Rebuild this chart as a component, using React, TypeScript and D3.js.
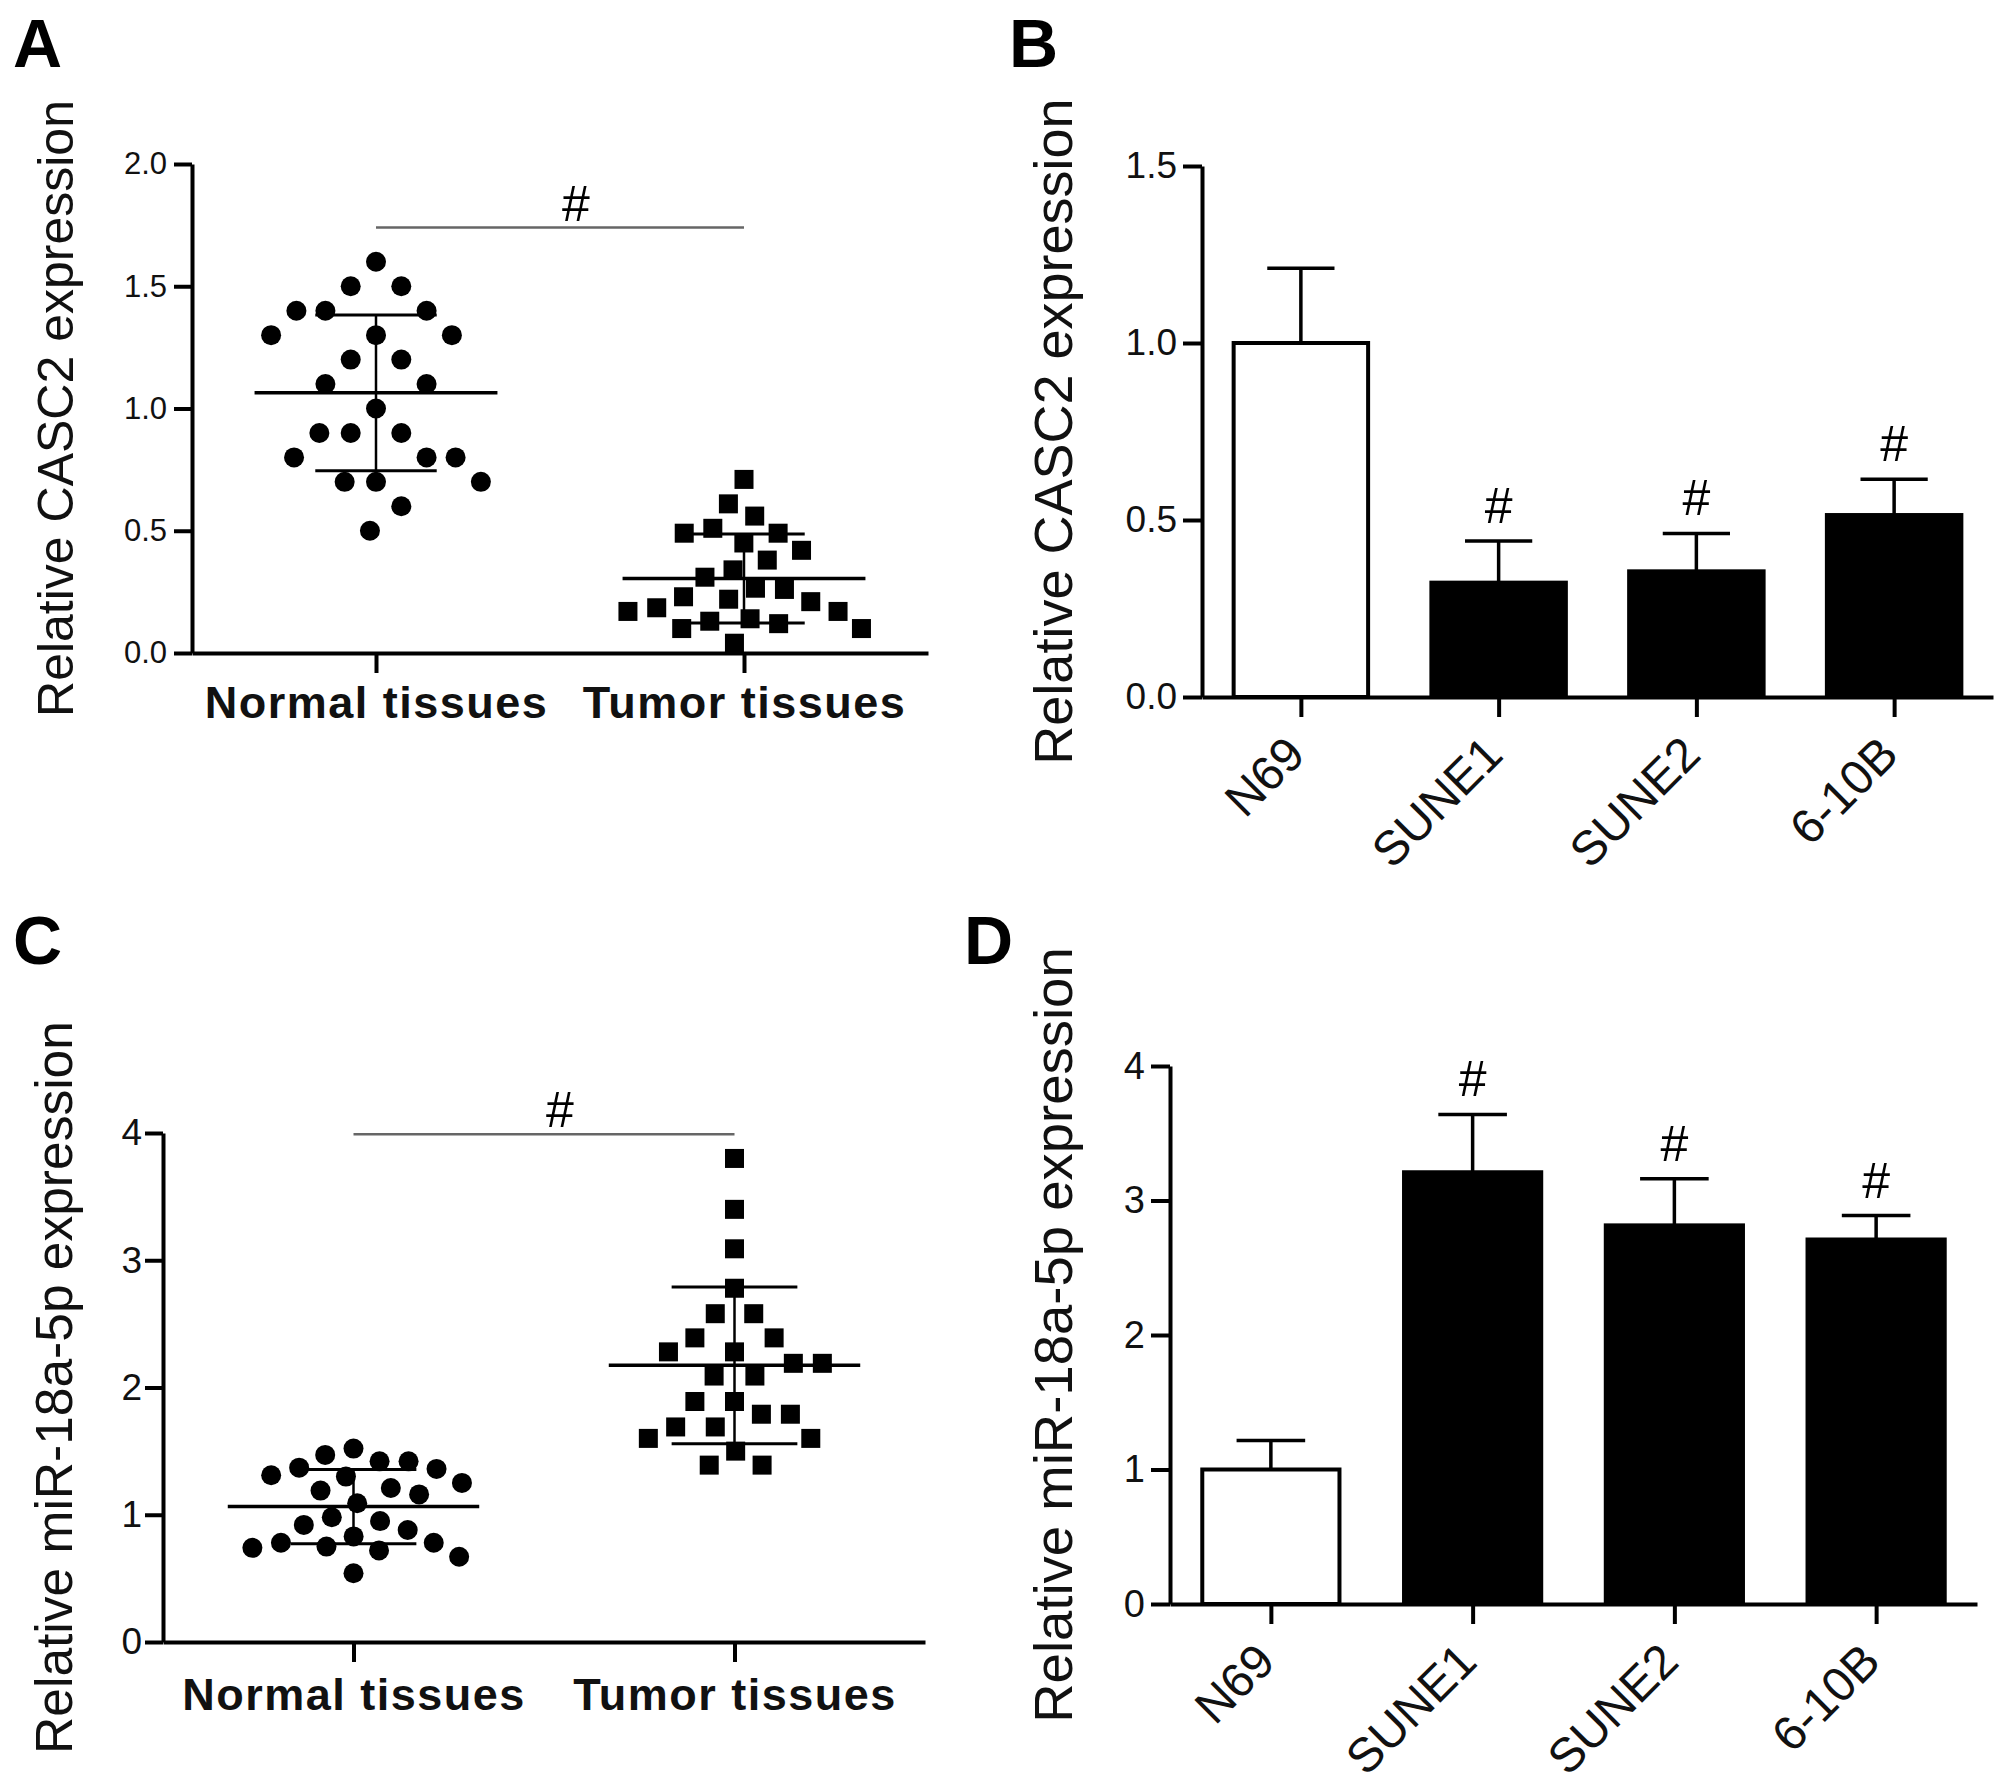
import React, { useRef, useEffect } from 'react';
import * as d3 from 'd3';

// ---- data ----
// panel A: CASC2 in tissues (one value per patient)
const tissueGroups = ['Normal tissues', 'Tumor tissues'];
const casc2Normal = [1.6, 1.5, 1.5, 1.4, 1.4, 1.4, 1.3, 1.3, 1.3, 1.2, 1.2, 1.1, 1.1, 1.0, 0.9, 0.9, 0.9, 0.8, 0.8, 0.8, 0.7, 0.7, 0.7, 0.6, 0.5];
const casc2Tumor = [0.71, 0.61, 0.56, 0.51, 0.49, 0.49, 0.45, 0.42, 0.38, 0.34, 0.31, 0.265, 0.26, 0.23, 0.22, 0.21, 0.185, 0.17, 0.17, 0.14, 0.13, 0.12, 0.1, 0.1, 0.04];
const casc2TissueTicks = [0, 0.5, 1, 1.5, 2];

// panel C: miR-18a-5p in tissues
const mirNormal = [1.52, 1.47, 1.42, 1.42, 1.37, 1.36, 1.31, 1.3, 1.25, 1.21, 1.19, 1.16, 1.09, 0.98, 0.95, 0.92, 0.88, 0.83, 0.78, 0.78, 0.75, 0.74, 0.72, 0.67, 0.54];
const mirTumor = [3.8, 3.4, 3.09, 2.78, 2.58, 2.58, 2.39, 2.39, 2.28, 2.28, 2.19, 2.19, 2.09, 2.09, 1.89, 1.89, 1.79, 1.79, 1.69, 1.69, 1.6, 1.6, 1.5, 1.39, 1.39];
const mirTissueTicks = [0, 1, 2, 3, 4];

// panels B and D: cell lines, mean + SD
const cellLines = ['N69', 'SUNE1', 'SUNE2', '6-10B'];
const casc2CellMean = [1.0, 0.323, 0.355, 0.514];
const casc2CellSd = [0.211, 0.118, 0.107, 0.101];
const casc2CellTicks = [0, 0.5, 1, 1.5];
const mirCellMean = [1.0, 3.21, 2.815, 2.71];
const mirCellSd = [0.215, 0.43, 0.347, 0.178];
const mirCellTicks = [0, 1, 2, 3, 4];
const cellSig = ['', '#', '#', '#'];

const FONT = '"Liberation Sans", Arial, Helvetica, sans-serif';

// simple beeswarm: each point goes as close to the centre as it can without overlapping.
// rx = horizontal spacing, ry = how far up/down a neighbour still counts (ellipse)
function swarm(values, y, rx, ry) {
    const placed = [];
    const out = new Array(values.length);
    const order = d3.range(values.length).sort((a, b) => values[b] - values[a]);
    order.forEach((i) => {
        const yi = y(values[i]);
        const blocks = [];
        placed.forEach((p) => {
            const dy = Math.abs(p.y - yi);
            if (dy < ry) {
                const w = rx * Math.sqrt(1 - (dy / ry) * (dy / ry));
                blocks.push([p.x - w, p.x + w]);
            }
        });
        const cands = [0];
        blocks.forEach((b) => cands.push(b[0], b[1]));
        cands.sort((a, b) => Math.abs(a) - Math.abs(b) || a - b);
        const x = cands.find((c) => blocks.every((b) => c <= b[0] + 1e-6 || c >= b[1] - 1e-6));
        placed.push({ x, y: yi });
        out[i] = x;
    });
    return out;
}

function styleAxis(sel, fontSize) {
    sel.attr('font-family', FONT).attr('font-size', fontSize);
    sel.select('.domain').attr('stroke', '#000').attr('stroke-width', 4);
    sel.selectAll('.tick line').attr('stroke', '#000').attr('stroke-width', 4);
    sel.selectAll('.tick text').attr('fill', '#111');
}

function drawPanelLetter(svg, letter, x, y) {
    svg.append('text')
        .attr('x', x).attr('y', y)
        .attr('font-family', FONT).attr('font-weight', 'bold').attr('font-size', 68)
        .text(letter);
}

function drawYTitle(svg, text, x, y0, y1, size) {
    svg.append('text')
        .attr('transform', `translate(${x},${(y0 + y1) / 2}) rotate(-90)`)
        .attr('text-anchor', 'middle')
        .attr('font-family', FONT).attr('font-size', size)
        .attr('fill', '#111')
        .text(text);
}

// scatter (dot plot) panel with mean and SD
function drawScatter(svg, p) {
    const y = d3.scaleLinear().domain(p.domain).range([p.bottom, p.top]);
    const x = d3.scalePoint().domain(tissueGroups).range([p.left, p.right]).padding(0.5);
    const step = x.step();

    // y axis
    const ya = svg.append('g')
        .attr('transform', `translate(${p.left},0)`)
        .call(d3.axisLeft(y).tickValues(p.ticks).tickFormat(p.fmt).tickSize(18).tickSizeOuter(0).tickPadding(p.tickPad));
    styleAxis(ya, p.tickFont);

    // x axis
    const xa = svg.append('g')
        .attr('transform', `translate(0,${p.bottom})`)
        .call(d3.axisBottom(x).tickSize(20).tickSizeOuter(0));
    styleAxis(xa, 45);
    xa.selectAll('.tick text')
        .attr('y', p.catOffset).attr('dy', 0)
        .attr('font-weight', 'bold')
        .attr('letter-spacing', 1.5);

    drawYTitle(svg, p.title, p.titleX, p.top, p.bottom, p.titleSize);

    // points
    p.series.forEach((vals, gi) => {
        const cx = x(tissueGroups[gi]);
        const offs = swarm(vals, y, 29, p.spreadY[gi]);
        const g = svg.append('g');
        if (gi === 0) {
            g.selectAll('circle').data(vals).enter().append('circle')
                .attr('cx', (d, i) => cx + offs[i])
                .attr('cy', (d) => y(d))
                .attr('r', 10)
                .attr('fill', '#000');
        } else {
            g.selectAll('rect').data(vals).enter().append('rect')
                .attr('x', (d, i) => cx + offs[i] - 9.5)
                .attr('y', (d) => y(d) - 9.5)
                .attr('width', 19).attr('height', 19)
                .attr('fill', '#000');
        }

        // mean and SD
        const m = d3.mean(vals);
        const sd = d3.deviation(vals);
        const lines = [
            [cx - step * 0.33, y(m), cx + step * 0.33, y(m), 3.5],
            [cx, y(m - sd), cx, y(m + sd), 2.5],
            [cx - step * 0.165, y(m + sd), cx + step * 0.165, y(m + sd), 3],
            [cx - step * 0.165, y(m - sd), cx + step * 0.165, y(m - sd), 3],
        ];
        g.selectAll('line').data(lines).enter().append('line')
            .attr('x1', (d) => d[0]).attr('y1', (d) => d[1])
            .attr('x2', (d) => d[2]).attr('y2', (d) => d[3])
            .attr('stroke', '#000').attr('stroke-width', (d) => d[4]);
    });

    // significance line
    const x0 = x(tissueGroups[0]);
    const x1 = x(tissueGroups[1]);
    svg.append('line')
        .attr('x1', x0).attr('x2', x1)
        .attr('y1', y(p.sigLevel)).attr('y2', y(p.sigLevel))
        .attr('stroke', '#666').attr('stroke-width', 2.5);
    svg.append('text')
        .attr('x', (x0 + x1) / 2 + 16).attr('y', y(p.sigLevel) - 7)
        .attr('text-anchor', 'middle')
        .attr('font-family', FONT).attr('font-size', 50)
        .text('#');
}

// bar panel with SD (upper only)
function drawBars(svg, p) {
    const y = d3.scaleLinear().domain(p.domain).range([p.bottom, p.top]);
    const x = d3.scalePoint().domain(cellLines).range([p.left, p.right]).padding(0.5);
    const bw = x.step() * 0.68;

    const g = svg.append('g');
    // error bars first, bars drawn over them
    cellLines.forEach((c, i) => {
        const cx = x(c);
        const top = y(p.mean[i] + p.sd[i]);
        g.append('line')
            .attr('x1', cx).attr('x2', cx)
            .attr('y1', y(p.mean[i])).attr('y2', top)
            .attr('stroke', '#000').attr('stroke-width', 3.5);
        g.append('line')
            .attr('x1', cx - bw / 4).attr('x2', cx + bw / 4)
            .attr('y1', top).attr('y2', top)
            .attr('stroke', '#000').attr('stroke-width', 3.5);
        if (cellSig[i]) {
            g.append('text')
                .attr('x', cx).attr('y', top - 18)
                .attr('text-anchor', 'middle')
                .attr('font-family', FONT).attr('font-size', 50)
                .text(cellSig[i]);
        }
    });

    g.selectAll('rect').data(p.mean).enter().append('rect')
        .attr('x', (d, i) => x(cellLines[i]) - bw / 2)
        .attr('y', (d) => y(d))
        .attr('width', bw)
        .attr('height', (d) => p.bottom - y(d))
        .attr('fill', (d, i) => (i === 0 ? '#fff' : '#000'))
        .attr('stroke', '#000').attr('stroke-width', 4);

    const ya = svg.append('g')
        .attr('transform', `translate(${p.left},0)`)
        .call(d3.axisLeft(y).tickValues(p.ticks).tickFormat(p.fmt).tickSize(19).tickSizeOuter(0).tickPadding(6));
    styleAxis(ya, p.tickFont);

    const xa = svg.append('g')
        .attr('transform', `translate(0,${p.bottom})`)
        .call(d3.axisBottom(x).tickSize(20).tickSizeOuter(0));
    styleAxis(xa, 48);
    xa.selectAll('.tick text')
        .attr('x', 0).attr('y', 0).attr('dy', 0)
        .attr('text-anchor', 'end')
        .attr('transform', 'translate(6,60) rotate(-45)');

    drawYTitle(svg, p.title, p.titleX, p.top, p.bottom, p.titleSize);
}

const Figure = () => {
    const ref = useRef(null);

    useEffect(() => {
        const svg = d3.select(ref.current);
        svg.selectAll('*').remove();

        svg.append('rect').attr('width', 2008).attr('height', 1791).attr('fill', '#fff');

        drawPanelLetter(svg, 'A', 13, 67);
        drawScatter(svg, {
            left: 192, right: 928, top: 164, bottom: 653,
            domain: [0, 2], ticks: casc2TissueTicks, fmt: d3.format('.1f'),
            tickFont: 31, tickPad: 7, catOffset: 65,
            series: [casc2Normal, casc2Tumor], spreadY: [50, 29],
            title: 'Relative CASC2 expression', titleX: 73, titleSize: 50,
            sigLevel: 1.74,
        });

        drawPanelLetter(svg, 'B', 1009, 67);
        drawBars(svg, {
            left: 1202, right: 1993, top: 166, bottom: 697,
            domain: [0, 1.5], ticks: casc2CellTicks, fmt: d3.format('.1f'), tickFont: 37,
            mean: casc2CellMean, sd: casc2CellSd,
            title: 'Relative CASC2 expression', titleX: 1072, titleSize: 54,
        });

        drawPanelLetter(svg, 'C', 13, 964);
        drawScatter(svg, {
            left: 163, right: 925, top: 1133, bottom: 1642,
            domain: [0, 4], ticks: mirTissueTicks, fmt: d3.format('d'),
            tickFont: 37, tickPad: 3, catOffset: 68,
            series: [mirNormal, mirTumor], spreadY: [29, 34],
            title: 'Relative miR-18a-5p expression', titleX: 72, titleSize: 51.5,
            sigLevel: 3.99,
        });

        drawPanelLetter(svg, 'D', 964, 964);
        drawBars(svg, {
            left: 1170, right: 1977, top: 1066, bottom: 1604,
            domain: [0, 4], ticks: mirCellTicks, fmt: d3.format('d'), tickFont: 38,
            mean: mirCellMean, sd: mirCellSd,
            title: 'Relative miR-18a-5p expression', titleX: 1072, titleSize: 54.5,
        });
    }, []);

    return (
        <svg
            ref={ref}
            width={2008}
            height={1791}
            style={{ position: 'absolute', left: 0, top: 0, display: 'block' }}
        />
    );
};

export default function App() {
    return <Figure />;
}
